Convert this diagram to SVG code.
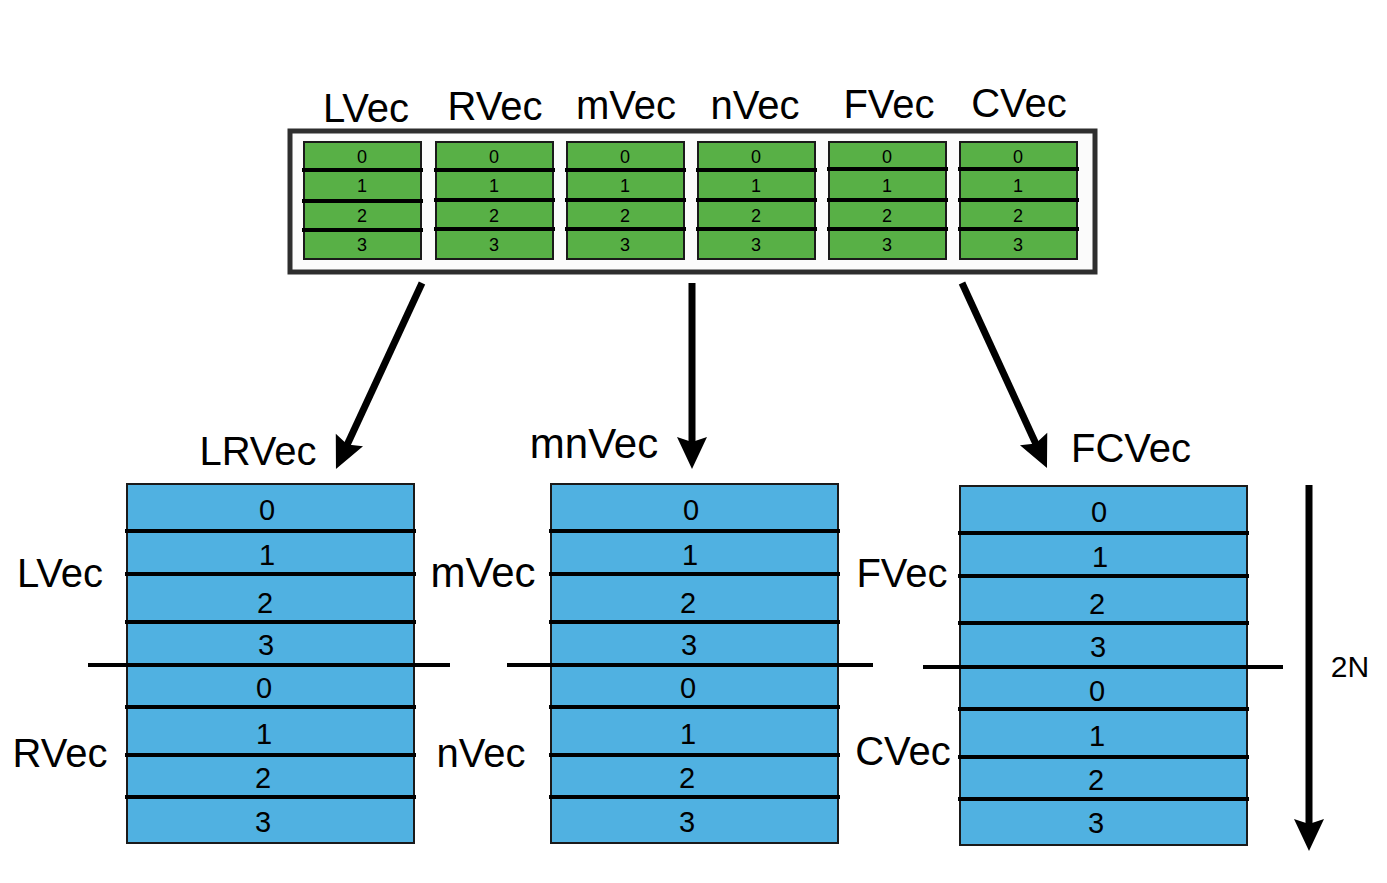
<svg xmlns="http://www.w3.org/2000/svg" width="1387" height="883" viewBox="0 0 1387 883">
<style>
text{font-family:"Liberation Sans",Arial,sans-serif;fill:#000;text-anchor:middle}
.hdr{font-size:40px}
.gd{font-size:18px}
.bd{font-size:29px}
.lbl{font-size:40px}
.green{fill:#58B046;stroke:#1a1a1a;stroke-width:2}
.blue{fill:#50B1E1;stroke:#1a1a1a;stroke-width:2}
.sep{stroke:#000;stroke-width:4}
.arrow{stroke:#000;stroke-width:7;fill:none}
</style>
<defs>
<marker id="ah" markerUnits="userSpaceOnUse" viewBox="-34 -17 36 34" refX="-22" refY="0" markerWidth="36" markerHeight="34" orient="auto">
<path d="M0,0 L-32,-15 L-27,0 L-32,15 Z" fill="#000"/>
</marker>
</defs>
<rect width="1387" height="883" fill="#fff"/>

<g id="top-container">
<rect x="290" y="131" width="805" height="141" fill="#fbfbfb" stroke="#2e2e2e" stroke-width="5"/>
</g>

<g id="vec-LVec">
<text class="hdr" x="366" y="122">LVec</text>
<rect class="green" x="304" y="142" width="117" height="117"/>
<line class="sep" x1="302" y1="170" x2="423" y2="170"/>
<line class="sep" x1="302" y1="201" x2="423" y2="201"/>
<line class="sep" x1="302" y1="230" x2="423" y2="230"/>
<text class="gd" x="362" y="163">0</text><text class="gd" x="362" y="192">1</text><text class="gd" x="362" y="222">2</text><text class="gd" x="362" y="251">3</text>
</g>
<g id="vec-RVec">
<text class="hdr" x="495" y="120">RVec</text>
<rect class="green" x="436" y="142" width="117" height="117"/>
<line class="sep" x1="434" y1="170" x2="555" y2="170"/>
<line class="sep" x1="434" y1="200" x2="555" y2="200"/>
<line class="sep" x1="434" y1="229" x2="555" y2="229"/>
<text class="gd" x="494" y="163">0</text><text class="gd" x="494" y="192">1</text><text class="gd" x="494" y="222">2</text><text class="gd" x="494" y="251">3</text>
</g>
<g id="vec-mVec">
<text class="hdr" x="626" y="119">mVec</text>
<rect class="green" x="567" y="142" width="117" height="117"/>
<line class="sep" x1="565" y1="170" x2="686" y2="170"/>
<line class="sep" x1="565" y1="200" x2="686" y2="200"/>
<line class="sep" x1="565" y1="229" x2="686" y2="229"/>
<text class="gd" x="625" y="163">0</text><text class="gd" x="625" y="192">1</text><text class="gd" x="625" y="222">2</text><text class="gd" x="625" y="251">3</text>
</g>
<g id="vec-nVec">
<text class="hdr" x="755" y="119">nVec</text>
<rect class="green" x="698" y="142" width="117" height="117"/>
<line class="sep" x1="696" y1="170" x2="817" y2="170"/>
<line class="sep" x1="696" y1="200" x2="817" y2="200"/>
<line class="sep" x1="696" y1="229" x2="817" y2="229"/>
<text class="gd" x="756" y="163">0</text><text class="gd" x="756" y="192">1</text><text class="gd" x="756" y="222">2</text><text class="gd" x="756" y="251">3</text>
</g>
<g id="vec-FVec">
<text class="hdr" x="889" y="118">FVec</text>
<rect class="green" x="829" y="142" width="117" height="117"/>
<line class="sep" x1="827" y1="169" x2="948" y2="169"/>
<line class="sep" x1="827" y1="200" x2="948" y2="200"/>
<line class="sep" x1="827" y1="229" x2="948" y2="229"/>
<text class="gd" x="887" y="163">0</text><text class="gd" x="887" y="192">1</text><text class="gd" x="887" y="222">2</text><text class="gd" x="887" y="251">3</text>
</g>
<g id="vec-CVec">
<text class="hdr" x="1019" y="117">CVec</text>
<rect class="green" x="960" y="142" width="117" height="117"/>
<line class="sep" x1="958" y1="169" x2="1079" y2="169"/>
<line class="sep" x1="958" y1="200" x2="1079" y2="200"/>
<line class="sep" x1="958" y1="229" x2="1079" y2="229"/>
<text class="gd" x="1018" y="163">0</text><text class="gd" x="1018" y="192">1</text><text class="gd" x="1018" y="222">2</text><text class="gd" x="1018" y="251">3</text>
</g>

<g id="LRVec">
<text class="lbl" x="258" y="465">LRVec</text>
<rect class="blue" x="127" y="484" width="287" height="359"/>
<line class="sep" x1="125" y1="531" x2="416" y2="531"/>
<line class="sep" x1="125" y1="574" x2="416" y2="574"/>
<line class="sep" x1="125" y1="622" x2="416" y2="622"/>
<line class="sep" x1="88" y1="665" x2="450" y2="665"/>
<line class="sep" x1="125" y1="707" x2="416" y2="707"/>
<line class="sep" x1="125" y1="755" x2="416" y2="755"/>
<line class="sep" x1="125" y1="797" x2="416" y2="797"/>
<text class="bd" x="267" y="520">0</text><text class="bd" x="267" y="565">1</text><text class="bd" x="265" y="613">2</text><text class="bd" x="266" y="655">3</text>
<text class="bd" x="264" y="698">0</text><text class="bd" x="264" y="744">1</text><text class="bd" x="263" y="788">2</text><text class="bd" x="263" y="832">3</text>
<text class="lbl" x="60" y="587">LVec</text>
<text class="lbl" x="60" y="767">RVec</text>
</g>

<g id="mnVec">
<text class="lbl" x="594" y="458" style="font-size:42px">mnVec</text>
<rect class="blue" x="551" y="484" width="287" height="359"/>
<line class="sep" x1="549" y1="531" x2="840" y2="531"/>
<line class="sep" x1="549" y1="574" x2="840" y2="574"/>
<line class="sep" x1="549" y1="622" x2="840" y2="622"/>
<line class="sep" x1="507" y1="665" x2="873" y2="665"/>
<line class="sep" x1="549" y1="707" x2="840" y2="707"/>
<line class="sep" x1="549" y1="755" x2="840" y2="755"/>
<line class="sep" x1="549" y1="797" x2="840" y2="797"/>
<text class="bd" x="691" y="520">0</text><text class="bd" x="690" y="565">1</text><text class="bd" x="688" y="613">2</text><text class="bd" x="689" y="655">3</text>
<text class="bd" x="688" y="698">0</text><text class="bd" x="688" y="744">1</text><text class="bd" x="687" y="788">2</text><text class="bd" x="687" y="832">3</text>
<text class="lbl" x="483" y="587" style="font-size:42px">mVec</text>
<text class="lbl" x="481" y="767">nVec</text>
</g>

<g id="FCVec">
<text class="lbl" x="1131" y="462">FCVec</text>
<rect class="blue" x="960" y="486" width="287" height="359"/>
<line class="sep" x1="958" y1="533" x2="1249" y2="533"/>
<line class="sep" x1="958" y1="576" x2="1249" y2="576"/>
<line class="sep" x1="958" y1="623" x2="1249" y2="623"/>
<line class="sep" x1="923" y1="667" x2="1283" y2="667"/>
<line class="sep" x1="958" y1="709" x2="1249" y2="709"/>
<line class="sep" x1="958" y1="757" x2="1249" y2="757"/>
<line class="sep" x1="958" y1="799" x2="1249" y2="799"/>
<text class="bd" x="1099" y="522">0</text><text class="bd" x="1100" y="567">1</text><text class="bd" x="1097" y="614">2</text><text class="bd" x="1098" y="657">3</text>
<text class="bd" x="1097" y="701">0</text><text class="bd" x="1097" y="746">1</text><text class="bd" x="1096" y="790">2</text><text class="bd" x="1096" y="833">3</text>
<text class="lbl" x="902" y="587">FVec</text>
<text class="lbl" x="903" y="765">CVec</text>
</g>

<g id="connectors">
<line class="arrow" x1="422" y1="283" x2="345.2" y2="449" marker-end="url(#ah)"/>
<line class="arrow" x1="692" y1="283" x2="692" y2="447" marker-end="url(#ah)"/>
<line class="arrow" x1="962" y1="283" x2="1037.8" y2="448" marker-end="url(#ah)"/>
<line class="arrow" x1="1309" y1="485" x2="1309" y2="829" marker-end="url(#ah)"/>
</g>
<g id="label-2N">
<text x="1350" y="677" style="font-size:30px">2N</text>
</g>
</svg>
